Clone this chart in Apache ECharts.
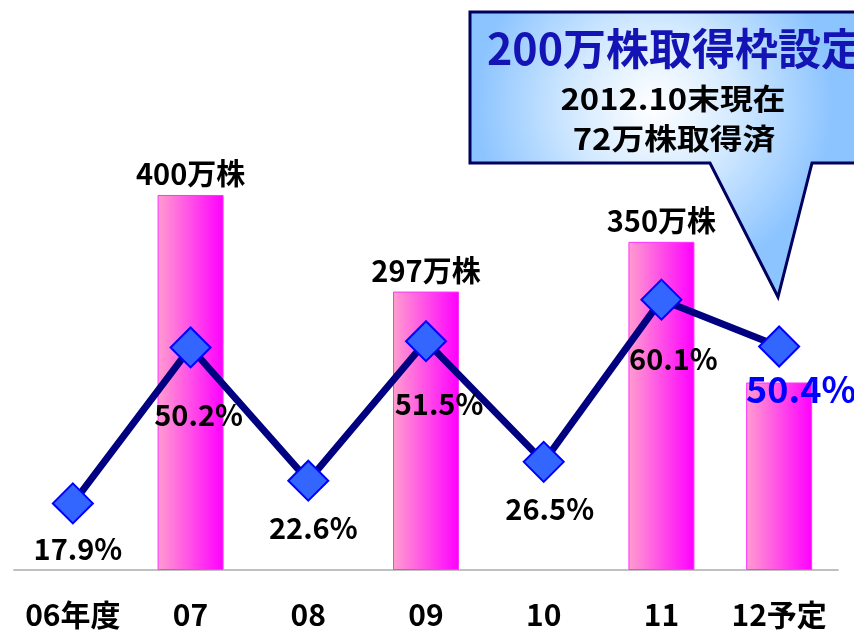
<!DOCTYPE html>
<html>
<head>
<meta charset="utf-8">
<script src="https://cdn.jsdelivr.net/npm/echarts@6/dist/echarts.min.js"></script>
<style>
html,body{margin:0;padding:0;background:#fff;}
#c{width:854px;height:630px;}
</style>
</head>
<body>
<div id="c"></div>
<script>
const categories = ['06年度', '07', '08', '09', '10', '11', '12予定'];
const buybackShares = [null, 400, null, 297, null, 350, 200]; // 万株
const barLabels = ['', '400万株', '', '297万株', '', '350万株', ''];
const payoutRatio = [17.9, 50.2, 22.6, 51.5, 26.5, 60.1, 50.4]; // %
const calloutLines = ['200万株取得枠設定', '2012.10末現在', '72万株取得済'];

const FONT = '"Noto Sans CJK JP", "Noto Sans", sans-serif';
const pctOffsets = [[5, 46], [8, 68], [5, 47], [13, 63], [6, 47], [12, 59], [22, 43]];

const chart = echarts.init(document.getElementById('c'), null, {renderer: 'canvas'});

const lineData = payoutRatio.map((v, i) => {
  const last = i === payoutRatio.length - 1;
  return {
    value: v,
    label: {
      offset: pctOffsets[i],
      color: last ? '#0000ff' : '#000000',
      fontSize: last ? 36 : 29
    }
  };
});

const barData = buybackShares.map((v, i) => ({
  value: v,
  label: {show: barLabels[i] !== '', formatter: barLabels[i]}
}));

const option = {
  animation: false,
  backgroundColor: '#ffffff',
  grid: {left: 14, right: 16, top: 10, bottom: 60, containLabel: false},
  xAxis: {
    type: 'category',
    data: categories,
    axisLine: {show: true, lineStyle: {color: '#c0c0c0', width: 2}},
    axisTick: {show: false},
    axisLabel: {interval: 0, color: '#000', fontFamily: FONT, fontWeight: 'bold', fontSize: 30, margin: 30}
  },
  yAxis: [
    {type: 'value', min: 0, max: 597.3, show: false, splitLine: {show: false}},
    {type: 'value', min: 4.1, max: 120.1, show: false, splitLine: {show: false}}
  ],
  series: [
    {
      type: 'bar',
      yAxisIndex: 0,
      barWidth: 66,
      data: barData,
      itemStyle: {
        color: {type: 'linear', x: 0, y: 0, x2: 1, y2: 0,
          colorStops: [{offset: 0, color: '#ff9dcf'}, {offset: 1, color: '#ff00ff'}]},
        borderColor: '#ff33ff',
        borderWidth: 1
      },
      label: {
        position: 'top',
        distance: 6,
        color: '#000',
        fontFamily: FONT,
        fontWeight: 'bold',
        fontSize: 29
      }
    },
    {
      type: 'line',
      yAxisIndex: 1,
      data: lineData,
      symbol: 'diamond',
      symbolSize: 40,
      showAllSymbol: true,
      lineStyle: {color: '#000080', width: 7},
      itemStyle: {color: '#3366ff', borderColor: '#0000ff', borderWidth: 2},
      label: {
        show: true,
        position: 'inside',
        formatter: p => p.value.toFixed(1) + '%',
        fontFamily: FONT,
        fontWeight: 'bold'
      },
      z: 5
    }
  ],
  graphic: [
    {
      type: 'polygon',
      z: 100,
      shape: {points: [[470, 12], [880, 12], [880, 163], [812, 163], [778, 297], [710, 163], [470, 163]]},
      style: {
        fill: {type: 'radial', x: 0.45, y: 0.33, r: 0.62,
          colorStops: [{offset: 0, color: '#ffffff'}, {offset: 0.45, color: '#d4eaff'}, {offset: 1, color: '#8cc4ff'}]},
        stroke: '#00005e',
        lineWidth: 3,
        lineJoin: 'miter'
      }
    },
    {
      type: 'text', z: 101, x: 487, y: 49, scaleX: 1.0,
      style: {text: calloutLines[0], fill: '#1414b4', font: 'bold 43px ' + FONT, textAlign: 'left', textVerticalAlign: 'middle'}
    },
    {
      type: 'text', z: 101, x: 673, y: 99, scaleX: 1.13,
      style: {text: calloutLines[1], fill: '#000', font: 'bold 29px ' + FONT, textAlign: 'center', textVerticalAlign: 'middle'}
    },
    {
      type: 'text', z: 101, x: 674, y: 139, scaleX: 1.13,
      style: {text: calloutLines[2], fill: '#000', font: 'bold 29px ' + FONT, textAlign: 'center', textVerticalAlign: 'middle'}
    }
  ]
};
chart.setOption(option);
</script>
</body>
</html>
